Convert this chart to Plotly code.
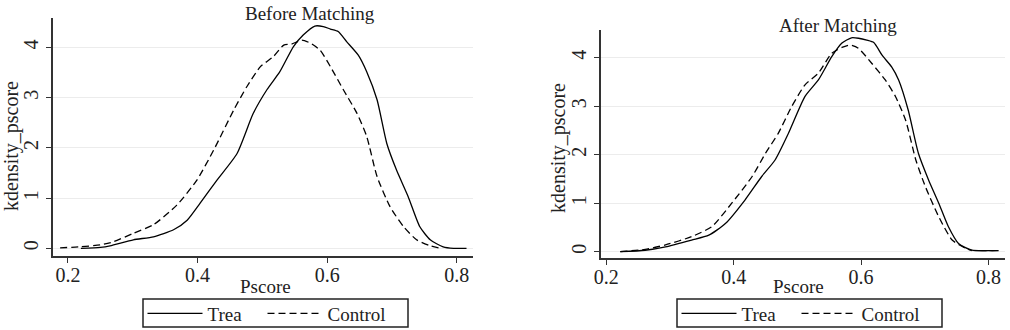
import plotly.graph_objects as go

# ---- data: Before Matching ----
before_trea_x = [0.22, 0.25, 0.265, 0.301, 0.332, 0.363, 0.384, 0.404, 0.43, 0.461, 0.486, 0.507, 0.527,
                 0.548, 0.563, 0.581, 0.594, 0.605, 0.617, 0.63, 0.648, 0.661, 0.677, 0.692, 0.707, 0.725,
                 0.743, 0.759, 0.779, 0.795, 0.815]
before_trea_y = [0.0, 0.02, 0.05, 0.17, 0.23, 0.37, 0.56, 0.90, 1.36, 1.89, 2.69, 3.16, 3.52,
                 4.02, 4.25, 4.43, 4.42, 4.37, 4.32, 4.12, 3.85, 3.52, 2.96, 2.09, 1.56, 1.03,
                 0.43, 0.17, 0.03, 0.0, 0.0]
before_ctrl_x = [0.188, 0.219, 0.25, 0.27, 0.301, 0.332, 0.368, 0.399, 0.425, 0.456, 0.476, 0.497, 0.517,
                 0.533, 0.545, 0.561, 0.574, 0.589, 0.605, 0.625, 0.646, 0.661, 0.677, 0.697, 0.718,
                 0.738, 0.759, 0.774]
before_ctrl_y = [0.01, 0.03, 0.07, 0.13, 0.30, 0.47, 0.86, 1.36, 1.96, 2.76, 3.22, 3.62, 3.82,
                 4.05, 4.07, 4.15, 4.09, 3.95, 3.62, 3.16, 2.69, 2.23, 1.43, 0.83, 0.43,
                 0.17, 0.05, 0.0]

# ---- data: After Matching ----
after_trea_x = [0.222, 0.261, 0.293, 0.334, 0.361, 0.387, 0.418, 0.444, 0.465, 0.486, 0.512, 0.533, 0.554,
                0.57, 0.585, 0.596, 0.609, 0.62, 0.633, 0.648, 0.659, 0.674, 0.69, 0.706, 0.722, 0.737,
                0.753, 0.774, 0.8, 0.816]
after_trea_y = [0.0, 0.03, 0.10, 0.24, 0.34, 0.58, 1.07, 1.55, 1.89, 2.44, 3.20, 3.54, 4.02,
                4.30, 4.41, 4.40, 4.36, 4.31, 4.05, 3.81, 3.54, 2.92, 2.03, 1.48, 1.00, 0.52,
                0.17, 0.03, 0.02, 0.02]
after_ctrl_x = [0.222, 0.261, 0.293, 0.334, 0.366, 0.397, 0.429, 0.45, 0.47, 0.491, 0.512, 0.533, 0.554,
                0.57, 0.583, 0.596, 0.617, 0.638, 0.654, 0.67, 0.686, 0.701, 0.722, 0.743, 0.764, 0.774]
after_ctrl_y = [0.0, 0.05, 0.14, 0.31, 0.52, 1.00, 1.55, 2.03, 2.44, 2.99, 3.44, 3.68, 4.09,
                4.21, 4.26, 4.19, 3.88, 3.54, 3.20, 2.71, 1.89, 1.34, 0.72, 0.24, 0.07, 0.02]

x_ticks = [0.2, 0.4, 0.6, 0.8]
x_ticklabels = ["0.2", "0.4", "0.6", "0.8"]
y_ticks = [0, 1, 2, 3, 4]
y_ticklabels = ["0", "1", "2", "3", "4"]

FONT = "Liberation Serif"
INK = "#222222"
W, H = 1010, 330

fig = go.Figure()
line_w = 1.3
dash = "7px,4px"

def add(x, y, name, xa, ya, leg, dashed, lw):
    fig.add_trace(go.Scatter(
        x=x, y=y, mode="lines", name=name,
        line=dict(color="black", width=line_w, dash=dash if dashed else "solid",
                  shape="spline", smoothing=0.6),
        xaxis=xa, yaxis=ya, legend=leg, legendwidth=lw))

add(before_trea_x, before_trea_y, "Trea", "x", "y", "legend", False, 50)
add(before_ctrl_x, before_ctrl_y, "Control", "x", "y", "legend", True, 68)
add(after_trea_x, after_trea_y, "Trea", "x2", "y2", "legend2", False, 50)
add(after_ctrl_x, after_ctrl_y, "Control", "x2", "y2", "legend2", True, 68)

def xax(domain, rng, anchor):
    return dict(domain=domain, range=rng, anchor=anchor, tickvals=x_ticks, ticktext=x_ticklabels,
                showline=True, linecolor="#333333", linewidth=1.6, ticks="outside", ticklen=5,
                tickwidth=1.2, tickcolor="#333333", showgrid=False, zeroline=False,
                ticklabelstandoff=-5, automargin=False,
                tickfont=dict(family=FONT, size=20, color=INK), fixedrange=True)

def yax(domain, rng, anchor):
    return dict(domain=domain, range=rng, anchor=anchor, tickvals=y_ticks, ticktext=y_ticklabels,
                showline=True, linecolor="#333333", linewidth=1.6, ticks="outside", ticklen=5,
                tickwidth=1.2, tickcolor="#333333", showgrid=True, gridcolor="#ececec", gridwidth=1,
                zeroline=False, tickangle=-90, automargin=False,
                tickfont=dict(family=FONT, size=20, color=INK), fixedrange=True)

d1x = [53 / W, 473 / W]
d1y = [1 - 256 / H, 1 - 18 / H]
d2x = [601 / W, 1005 / W]
d2y = [1 - 258 / H, 1 - 30 / H]

# legend: plotly's own legend (no border); the box is drawn as a shape to match the compact frame
legend_common = dict(orientation="h", bordercolor="rgba(0,0,0,0)", borderwidth=1.5,
                     bgcolor="rgba(0,0,0,0)",
                     font=dict(family=FONT, size=19, color=INK), xanchor="left", yanchor="top",
                     itemwidth=55, tracegroupgap=0)

def annot(text, px, py, size=19, angle=0):
    return dict(text=text, x=px / W, y=1 - py / H, xref="paper", yref="paper",
                xanchor="center", yanchor="middle", showarrow=False, textangle=angle,
                font=dict(family=FONT, size=size, color=INK))

def box(x0, x1, y0, y1):
    return dict(type="rect", xref="paper", yref="paper", x0=x0 / W, x1=x1 / W,
                y0=1 - y1 / H, y1=1 - y0 / H, line=dict(color="#222222", width=1.5),
                fillcolor="rgba(0,0,0,0)", layer="above")

fig.update_layout(
    width=W, height=H, margin=dict(l=0, r=0, t=0, b=0, autoexpand=False),
    paper_bgcolor="white", plot_bgcolor="white",
    xaxis=xax(d1x, [0.177, 0.825], "y"),
    yaxis=yax(d1y, [-0.153, 4.59], "x"),
    xaxis2=xax(d2x, [0.1917, 0.826], "y2"),
    yaxis2=yax(d2y, [-0.13, 4.57], "x2"),
    showlegend=True,
    legend=dict(x=141 / W, y=1 - 293 / H, **legend_common),
    legend2=dict(x=675 / W, y=1 - 293 / H, **legend_common),
    shapes=[box(143, 408, 299, 327), box(677, 942, 299, 327)],
    annotations=[
        annot("Before Matching", 310, 13),
        annot("After Matching", 838, 26),
        annot("Pscore", 265, 286),
        annot("Pscore", 798, 286),
        annot("kdensity_pscore", 11, 146, size=20, angle=-90),
        annot("kdensity_pscore", 558, 148, size=20, angle=-90),
    ],
)

fig.write_html("out.html")
